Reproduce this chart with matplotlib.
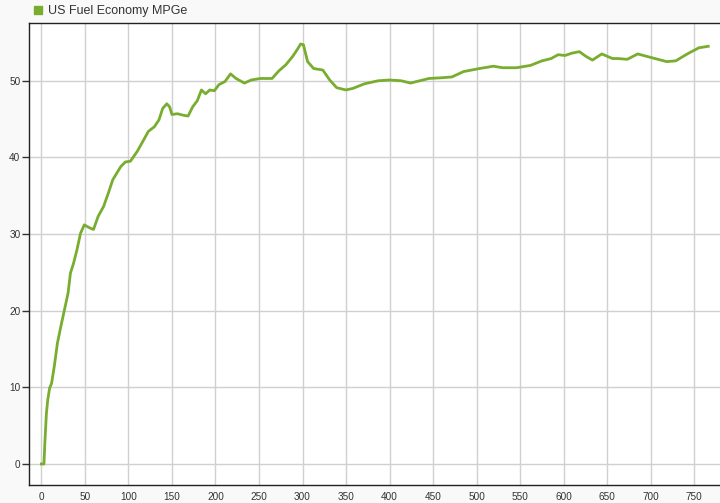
import matplotlib
matplotlib.use("Agg")
import matplotlib.pyplot as plt
from matplotlib.patches import Patch

# Data
x_vals = [0, 3, 4, 5.8, 7.4, 9.5, 11.7, 14.8, 18.5, 22.3, 26.5, 30.7, 33.4, 37, 40.8,
          45, 49.3, 55.6, 59.9, 65.2, 71.5, 76.8, 82.1, 91.2, 96.4, 102.3, 110.2,
          117.6, 122.9, 129.8, 135.1, 139.4, 144.1, 147.3, 150, 156.3, 163.2, 168.5,
          173.8, 179.1, 183.9, 188.7, 193.4, 198.7, 204, 210.9, 217.3, 223.6, 233.2,
          241.1, 251.7, 265, 272.9, 280.9, 288.8, 294.1, 297.8, 301, 305.8, 312.7,
          323.3, 331.2, 339.2, 349.8, 357.7, 371, 386.8, 400, 413.4, 424, 445.2,
          461, 471.6, 484.9, 503.4, 519.3, 529.9, 545.8, 561.7, 575, 585.6, 593.5,
          601.5, 609.4, 618, 625.3, 633, 643.7, 656, 662.4, 673, 685, 704.8, 718.3,
          728.7, 741.9, 755.2, 766]
y_vals = [0, 0, 2.7, 6.6, 8.4, 9.9, 10.5, 12.7, 15.8, 17.9, 20.1, 22.3, 24.9, 26.2, 27.9,
          30.1, 31.2, 30.8, 30.6, 32.3, 33.6, 35.3, 37.1, 38.8, 39.4, 39.5, 40.8,
          42.3, 43.4, 44.0, 44.9, 46.4, 47.0, 46.6, 45.6, 45.7, 45.5, 45.4,
          46.6, 47.4, 48.8, 48.3, 48.8, 48.7, 49.5, 49.9, 50.9, 50.3, 49.7,
          50.1, 50.3, 50.3, 51.3, 52.1, 53.2, 54.1, 54.8, 54.7, 52.5, 51.6,
          51.4, 50.1, 49.1, 48.8, 49.0, 49.6, 50.0, 50.1, 50.0, 49.7, 50.3,
          50.4, 50.5, 51.2, 51.6, 51.9, 51.7, 51.7, 52.0, 52.6, 52.9, 53.4,
          53.3, 53.6, 53.8, 53.2, 52.7, 53.5, 52.9, 52.9, 52.8, 53.5, 52.9, 52.5,
          52.6, 53.5, 54.3, 54.5]
x_ticks = list(range(0, 751, 50))
y_ticks = [0, 10, 20, 30, 40, 50]
series_name = "US Fuel Economy MPGe"

plt.rcParams['font.family'] = ['Liberation Sans', 'DejaVu Sans']

color = '#78ad2f'
fig = plt.figure(figsize=(7.2, 5.03), dpi=100, facecolor='#f9f9f9')
ax = fig.add_axes([0.0399, 0.0352, 0.9601, 0.9185])
ax.set_facecolor('white')

ax.plot(x_vals, y_vals, color=color, lw=2.0, solid_joinstyle='round')

ax.set_xlim(-14.5, 779.5)
ax.set_ylim(-2.78, 57.5)
ax.set_xticks(x_ticks)
ax.set_yticks(y_ticks)
ax.grid(True, color='#d0d0d0', lw=1.0)
ax.set_axisbelow(True)

for s in ['left', 'bottom', 'top']:
    ax.spines[s].set_color('#222222')
    ax.spines[s].set_linewidth(1.0)
ax.spines['right'].set_visible(False)

ax.tick_params(axis='y', length=5, width=1, color='#333333', pad=1,
               labelsize=7.2, labelcolor='#333333')
ax.tick_params(axis='x', length=0, pad=5, labelsize=7.2, labelcolor='#333333')

handle = Patch(facecolor=color, edgecolor=color)
fig.legend([handle], [series_name], loc='upper left',
           bbox_to_anchor=(0.032, 1.012), frameon=False, fontsize=9,
           handlelength=0.65, handleheight=0.65, handletextpad=0.45,
           labelcolor='#333333')

fig.savefig('out.png', dpi=100, facecolor=fig.get_facecolor())
